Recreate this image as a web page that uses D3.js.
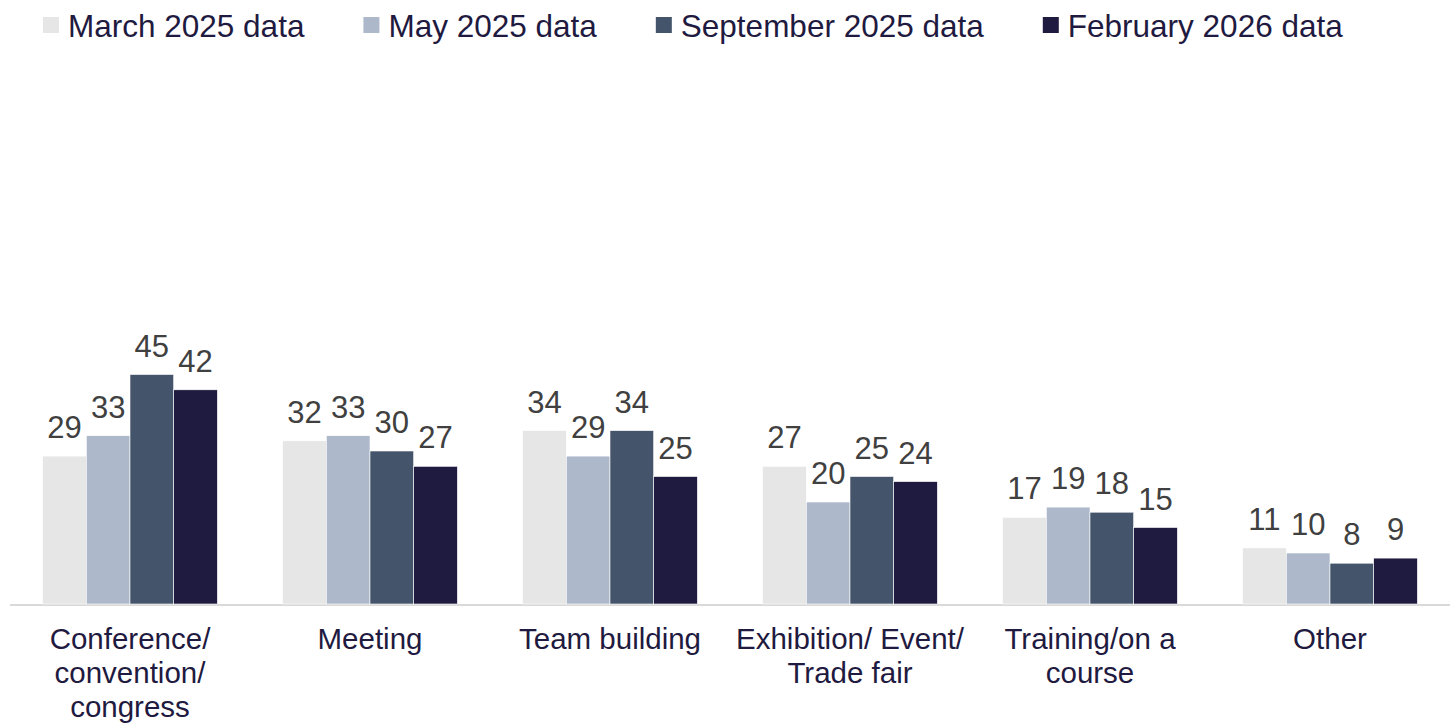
<!DOCTYPE html>
<html>
<head>
<meta charset="utf-8">
<script src="https://cdn.jsdelivr.net/npm/d3@7"></script>
<style>
  html, body { margin: 0; padding: 0; background: #ffffff; }
  svg { display: block; font-family: Arial, "Liberation Sans", sans-serif; }
</style>
</head>
<body>
<svg id="chart" width="1455" height="723"></svg>
<script>
const categories = [
  ["Conference/", "convention/", "congress"],
  ["Meeting"],
  ["Team building"],
  ["Exhibition/ Event/", "Trade fair"],
  ["Training/on a", "course"],
  ["Other"]
];
const seriesNames = ["March 2025 data", "May 2025 data", "September 2025 data", "February 2026 data"];
const march2025 = [29, 32, 34, 27, 17, 11];
const may2025 = [33, 33, 29, 20, 19, 10];
const sept2025 = [45, 30, 34, 25, 18, 8];
const feb2026 = [42, 27, 25, 24, 15, 9];
const seriesValues = [march2025, may2025, sept2025, feb2026];
const colors = ["#e6e6e6", "#adb9ca", "#44546a", "#1f1a3f"];

const svg = d3.select("#chart");
const baseY = 604;
const catIds = categories.map((c, i) => i);

const x0 = d3.scaleBand().domain(catIds).range([10, 1450]).paddingInner(0.272).paddingOuter(0.136);
const x1 = d3.scaleBand().domain(d3.range(seriesNames.length)).range([0, x0.bandwidth()]);
const y = d3.scaleLinear().domain([0, 100]).range([baseY, baseY - 510]);

// axis line
svg.append("line")
  .attr("x1", 10).attr("x2", 1450)
  .attr("y1", baseY + 1).attr("y2", baseY + 1)
  .attr("stroke", "#d9d9d9").attr("stroke-width", 2);

const groups = svg.selectAll("g.grp").data(catIds).join("g")
  .attr("class", "grp")
  .attr("transform", d => `translate(${x0(d)},0)`);

groups.each(function(ci) {
  const g = d3.select(this);
  seriesValues.forEach((vals, si) => {
    const v = vals[ci];
    g.append("rect")
      .attr("x", x1(si))
      .attr("y", y(v))
      .attr("width", x1.bandwidth())
      .attr("height", baseY - y(v))
      .attr("fill", colors[si])
      .attr("stroke", "#ffffff")
      .attr("stroke-width", 0.6);
    g.append("text")
      .attr("x", x1(si) + x1.bandwidth() / 2)
      .attr("y", y(v) - 18)
      .attr("text-anchor", "middle")
      .attr("font-size", 31)
      .attr("fill", "#404040")
      .text(v);
  });
});

// category labels
const catText = svg.selectAll("text.cat").data(catIds).join("text")
  .attr("class", "cat")
  .attr("text-anchor", "middle")
  .attr("font-size", 29.5)
  .attr("fill", "#1f1a3f")
  .attr("x", d => x0(d) + x0.bandwidth() / 2)
  .attr("y", 649);
catText.each(function(ci) {
  const t = d3.select(this);
  categories[ci].forEach((line, li) => {
    t.append("tspan")
      .attr("x", x0(ci) + x0.bandwidth() / 2)
      .attr("dy", li === 0 ? 0 : 34)
      .text(line);
  });
});

// legend
const legend = svg.append("g");
let lx = 43;
seriesNames.forEach((name, i) => {
  legend.append("rect")
    .attr("x", lx).attr("y", 17)
    .attr("width", 16).attr("height", 16)
    .attr("fill", colors[i]);
  const t = legend.append("text")
    .attr("x", lx + 25).attr("y", 37)
    .attr("font-size", 31.5)
    .attr("fill", "#1f1a3f")
    .text(name);
  const w = t.node().getComputedTextLength();
  lx = lx + 25 + w + 59;
});
</script>
</body>
</html>
